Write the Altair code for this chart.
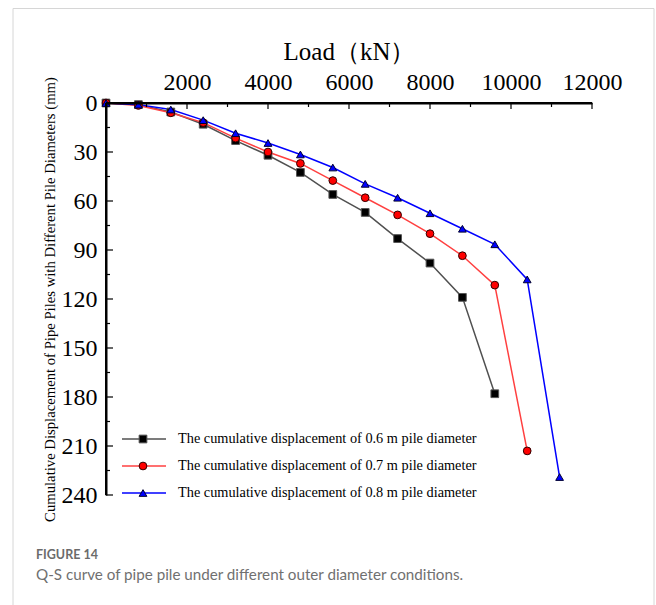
import altair as alt
import pandas as pd

# Applied load steps (kN)
loads = [0, 800, 1600, 2400, 3200, 4000, 4800, 5600, 6400, 7200, 8000, 8800, 9600, 10400, 11200]

# Cumulative pile-head displacement (mm) for each outer diameter
disp_06 = [0, 1, 5.5, 13, 23, 32, 42.5, 56, 67, 83, 98, 119, 178]
disp_07 = [0, 1.5, 6, 12, 21.5, 30, 37, 47.5, 58, 68.5, 80, 93.5, 111.5, 213]
disp_08 = [0, 1, 4, 10.5, 18.5, 24.5, 31.5, 39.5, 49.5, 58, 67.5, 77, 86.5, 108, 229]

series_names = [
    "The cumulative displacement of 0.6 m pile diameter",
    "The cumulative displacement of 0.7 m pile diameter",
    "The cumulative displacement of 0.8 m pile diameter",
]
line_colors = ["#505050", "#ff4040", "#0000ff"]
fill_colors = ["#000000", "#ff0000", "#0000ff"]
marker_shapes = ["square", "circle", "triangle-up"]
marker_strokes = ["#555555", "#300000", "#000030"]

x_range = [0, 12000]
y_range = [0, 240]
x_major = list(range(0, 12001, 2000))
x_minor = list(range(1000, 12000, 2000))
y_major = list(range(0, 241, 30))
y_minor = list(range(15, 240, 30))

x_title = "Load（kN）"
y_title = "Cumulative Displacement of Pipe Piles with Different Pile Diameters (mm)"
fig_label = "FIGURE 14"
fig_caption = "Q-S curve of pipe pile under different outer diameter conditions."

SERIF = "Liberation Serif"
SANS = "Lato"

rows = []
for name, vals in zip(series_names, [disp_06, disp_07, disp_08]):
    for q, s in zip(loads, vals):
        rows.append({"series": name, "load": q, "disp": s})
df = pd.DataFrame(rows)

W, H = 486, 392

x_scale = alt.Scale(domain=x_range, nice=False, zero=False)
y_scale = alt.Scale(domain=y_range, nice=False, zero=False, reverse=True)

color_scale = alt.Scale(domain=series_names, range=line_colors)
fill_scale = alt.Scale(domain=series_names, range=fill_colors)
shape_scale = alt.Scale(domain=series_names, range=marker_shapes)
stroke_scale = alt.Scale(domain=series_names, range=marker_strokes)

x_axis = alt.Axis(
    orient="top", values=x_major[1:], format="d", ticks=False, grid=False,
    domain=True, domainColor="#000000", domainWidth=2, domainOpacity=1, zindex=2,
    labelFont=SERIF, labelFontSize=24, labelColor="black",
    labelPadding=9, labelFlush=False, labelOverlap=False,
    title=x_title, titleFont=SERIF, titleFontSize=25, titleFontWeight="normal",
    titleColor="black", titlePadding=6,
)
y_axis = alt.Axis(
    orient="left", values=y_major, format="d", ticks=False, grid=False,
    domain=True, domainColor="#000000", domainWidth=2, domainOpacity=1, zindex=2,
    labelFont=SERIF, labelFontSize=24, labelColor="black",
    labelPadding=9, labelFlush=False, labelOverlap=False,
    title=y_title, titleFont=SERIF, titleFontSize=14.7, titleFontWeight="normal",
    titleColor="black", titlePadding=4,
)

X = alt.X("load:Q", scale=x_scale, axis=x_axis)

base = alt.Chart(df)

lines = base.mark_line(strokeWidth=1.5).encode(
    x=X,
    y=alt.Y("disp:Q", scale=y_scale, axis=y_axis),
    color=alt.Color("series:N", scale=color_scale, legend=None),
    detail="series:N",
)

points = base.mark_point(filled=True, size=60, strokeWidth=1, opacity=1).encode(
    x=X,
    y=alt.Y("disp:Q", scale=y_scale, axis=None),
    fill=alt.Fill("series:N", scale=fill_scale, legend=None),
    stroke=alt.Stroke("series:N", scale=stroke_scale, legend=None),
    shape=alt.Shape("series:N", scale=shape_scale, legend=None),
)

# Axis lines along the top (load axis) and left (displacement axis) edges
top_line = alt.Chart(pd.DataFrame({"load": [x_range[0]], "load_end": [x_range[1]], "disp": [y_range[0]]})).mark_rule(
    color="#000000", strokeWidth=2, opacity=1
).encode(x=X, x2="load_end:Q", y=alt.Y("disp:Q", scale=y_scale, axis=None))
left_line = alt.Chart(pd.DataFrame({"load": [x_range[0]], "disp": [y_range[0]], "disp_end": [y_range[1]]})).mark_rule(
    color="#000000", strokeWidth=2, opacity=1
).encode(x=X, y=alt.Y("disp:Q", scale=y_scale, axis=None), y2="disp_end:Q")

# Inward-pointing tick marks on both axes
xt_major = alt.Chart(pd.DataFrame({"load": x_major})).mark_rule(color="black", strokeWidth=1.2).encode(
    x=X, y=alt.value(0), y2=alt.value(6)
)
xt_minor = alt.Chart(pd.DataFrame({"load": x_minor})).mark_rule(color="black", strokeWidth=1.2).encode(
    x=X, y=alt.value(0), y2=alt.value(4)
)
yt_major = alt.Chart(pd.DataFrame({"v": y_major})).mark_rule(color="black", strokeWidth=1.2).encode(
    y=alt.Y("v:Q", scale=y_scale, axis=None), x=alt.value(0), x2=alt.value(7)
)
yt_minor = alt.Chart(pd.DataFrame({"v": y_minor})).mark_rule(color="black", strokeWidth=1.2).encode(
    y=alt.Y("v:Q", scale=y_scale, axis=None), x=alt.value(0), x2=alt.value(4)
)

# In-plot legend: line segment + marker + label per series
leg_df = pd.DataFrame({"series": series_names})
leg_y = alt.Y("series:N", axis=None,
              scale=alt.Scale(type="point", domain=series_names, range=[336, 390], padding=0))
leg_lines = alt.Chart(leg_df).mark_rule(strokeWidth=1.5).encode(
    x=alt.value(16), x2=alt.value(60), y=leg_y,
    color=alt.Color("series:N", scale=color_scale, legend=None),
)
leg_points = alt.Chart(leg_df).mark_point(filled=True, size=60, strokeWidth=1, opacity=1).encode(
    x=alt.value(37), y=leg_y,
    fill=alt.Fill("series:N", scale=fill_scale, legend=None),
    stroke=alt.Stroke("series:N", scale=stroke_scale, legend=None),
    shape=alt.Shape("series:N", scale=shape_scale, legend=None),
)
leg_text = alt.Chart(leg_df).mark_text(
    align="left", baseline="middle", font=SERIF, fontSize=14.3, color="black"
).encode(x=alt.value(72), y=leg_y, text="series:N")

# Figure frame and caption
frame = alt.Chart(pd.DataFrame({"k": [0]})).mark_rect(
    fill="transparent", stroke="#d6d6d6", strokeWidth=1
).encode(x=alt.value(-93), x2=alt.value(548), y=alt.value(-94.5), y2=alt.value(540))

cap1 = alt.Chart(pd.DataFrame({"t": [fig_label]})).mark_text(
    align="left", baseline="middle", font=SANS, fontSize=12.5, fontWeight="bold", color="#6b6b6b"
).encode(x=alt.value(-70), y=alt.value(452), text="t:N")
cap2 = alt.Chart(pd.DataFrame({"t": [fig_caption]})).mark_text(
    align="left", baseline="middle", font=SANS, fontSize=15.2, color="#707070"
).encode(x=alt.value(-70), y=alt.value(472), text="t:N")

chart = alt.layer(
    frame, lines, xt_major, xt_minor, yt_major, yt_minor, points,
    leg_lines, leg_points, leg_text, cap1, cap2, top_line, left_line,
).resolve_scale(
    y="independent"
).properties(
    width=W, height=H,
    autosize=alt.AutoSizeParams(type="none"),
    padding={"left": 106, "top": 103, "right": 64, "bottom": 110},
    background="white",
).configure_view(stroke=None)

chart.save("out.html", embed_options={"renderer": "svg", "actions": False})
